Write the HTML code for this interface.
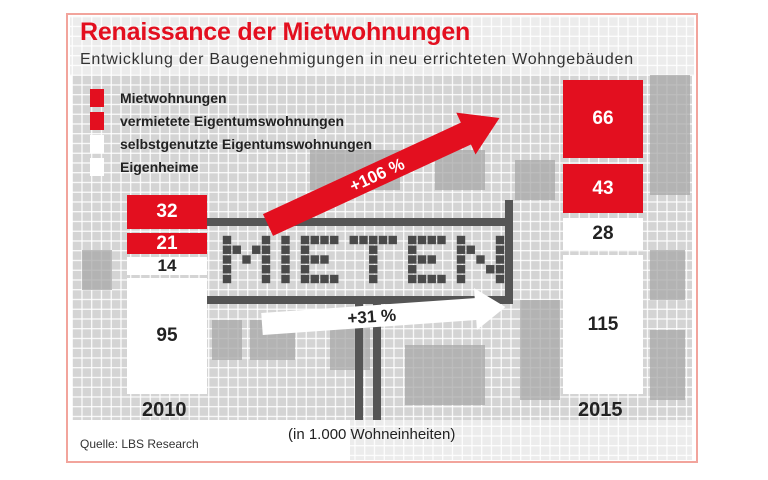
<!DOCTYPE html>
<html><head><meta charset="utf-8">
<style>
body{margin:0;width:768px;height:480px;background:#fff;position:relative;overflow:hidden;font-family:"Liberation Sans",sans-serif}
.frame{position:absolute;left:66px;top:13px;width:632px;height:450px;border:2px solid #f2a49c;box-sizing:border-box}
.t{position:absolute;white-space:nowrap}
.bar{position:absolute;display:flex;align-items:center;justify-content:center;font-weight:bold;font-size:19px;color:#222}
.red{background:#e30f1f;color:#fff}
.wh{background:#fff}
.lg{position:absolute;left:90px;width:14px;height:18px}
.lt{position:absolute;left:120px;font-size:14px;font-weight:bold;color:#222}
</style></head><body>
<svg width="768" height="480" style="position:absolute;left:0;top:0">
<defs>
<pattern id="g" x="72" y="75" width="9.75" height="9.75" patternUnits="userSpaceOnUse">
<rect width="9.75" height="9.75" fill="#fff"/><rect x="0.8" y="0.8" width="8.6" height="8.6" fill="#d4d4d4"/></pattern>
<pattern id="g2" x="72" y="75" width="9.75" height="9.75" patternUnits="userSpaceOnUse">
<rect width="9.75" height="9.75" fill="#fff"/><rect x="0.8" y="0.8" width="8.6" height="8.6" fill="#ececec"/></pattern>
</defs>
<rect x="70" y="16" width="624" height="60" fill="url(#g2)"/>
<rect x="72" y="75" width="620" height="345" fill="url(#g)"/>
<rect x="350" y="420" width="342" height="40" fill="url(#g2)"/>
<g fill="#a8a8a8" opacity="0.75">
<rect x="310" y="150" width="90" height="40"/><rect x="435" y="150" width="50" height="40"/>
<rect x="650" y="75" width="40" height="120"/><rect x="82" y="250" width="30" height="40"/>
<rect x="250" y="320" width="45" height="40"/><rect x="330" y="310" width="40" height="60"/>
<rect x="405" y="345" width="80" height="60"/><rect x="520" y="300" width="40" height="100"/>
<rect x="650" y="330" width="35" height="70"/><rect x="650" y="250" width="35" height="50"/>
<rect x="515" y="160" width="40" height="40"/><rect x="212" y="320" width="30" height="40"/>
</g>
<g fill="#555">
<rect x="207" y="218" width="305" height="8"/>
<rect x="207" y="296" width="305" height="8"/>
<rect x="505" y="200" width="8" height="104"/>
<rect x="355" y="296" width="8" height="124"/>
<rect x="373" y="296" width="8" height="124"/>
</g>
<g id="m" fill="#4a4a4a"></g>
<g transform="translate(268,225) rotate(-24.8)">
<polygon points="0,-12 218,-12 218,-23 255,0 218,23 218,12 0,12" fill="#e30f1f"/>
<text x="120" y="6" font-family="Liberation Sans" font-weight="bold" font-size="17" fill="#fff" text-anchor="middle">+106 %</text>
</g>
<g transform="translate(262,324) rotate(-4)">
<polygon points="0,-11 214,-11 214,-21 244,0 214,21 214,11 0,11" fill="#fff"/>
<text x="110" y="6" font-family="Liberation Sans" font-weight="bold" font-size="17" fill="#222" text-anchor="middle">+31 %</text>
</g>
</svg>
<div class="frame"></div>
<div class="t" style="left:80px;top:18px;font-size:25px;font-weight:bold;color:#e30f1f;letter-spacing:-0.2px">Renaissance der Mietwohnungen</div>
<div class="t" style="left:80px;top:51px;font-size:16px;color:#333;letter-spacing:0.75px">Entwicklung der Baugenehmigungen in neu errichteten Wohngebäuden</div>
<div class="lg" style="top:89px;background:#e30f1f"></div><div class="lt" style="top:90px">Mietwohnungen</div>
<div class="lg" style="top:112px;background:#e30f1f"></div><div class="lt" style="top:113px">vermietete Eigentumswohnungen</div>
<div class="lg" style="top:135px;background:#fff"></div><div class="lt" style="top:136px">selbstgenutzte Eigentumswohnungen</div>
<div class="lg" style="top:158px;background:#fff"></div><div class="lt" style="top:159px">Eigenheime</div>
<div class="bar red" style="left:127px;top:195px;width:80px;height:34px">32</div>
<div class="bar red" style="left:127px;top:233px;width:80px;height:21px">21</div>
<div class="bar wh" style="left:127px;top:257px;width:80px;height:18px;font-size:17px">14</div>
<div class="bar wh" style="left:127px;top:278px;width:80px;height:116px">95</div>
<div class="bar red" style="left:563px;top:80px;width:80px;height:78px">66</div>
<div class="bar red" style="left:563px;top:164px;width:80px;height:49px">43</div>
<div class="bar wh" style="left:563px;top:218px;width:80px;height:32px">28</div>
<div class="bar wh" style="left:563px;top:255px;width:80px;height:139px">115</div>
<div class="t" style="left:142px;top:399px;font-size:20px;font-weight:bold;color:#222">2010</div>
<div class="t" style="left:578px;top:399px;font-size:20px;font-weight:bold;color:#222">2015</div>
<div class="t" style="left:288px;top:426px;font-size:15px;color:#222">(in 1.000 Wohneinheiten)</div>
<div class="t" style="left:80px;top:437px;font-size:12px;color:#333">Quelle: LBS Research</div>
<script>
var L={M:["10001","11011","10101","10001","10001"],I:["1","1","1","1","1"],E:["1111","1000","1110","1000","1111"],T:["11111","00100","00100","00100","00100"],N:["10001","11001","10101","10011","10001"]};
var g=document.getElementById('m'),s='',x0=222,c=9.75,col=0;
"MIETEN".split('').forEach(function(ch){var p=L[ch];for(var r=0;r<5;r++)for(var k=0;k<p[r].length;k++)if(p[r][k]=='1')s+='<rect x="'+(x0+(col+k)*c+0.8)+'" y="'+(235+r*c+0.8)+'" width="8.4" height="8.4"/>';col+=p[0].length+1;});
g.innerHTML=s;
</script>
</body></html>
